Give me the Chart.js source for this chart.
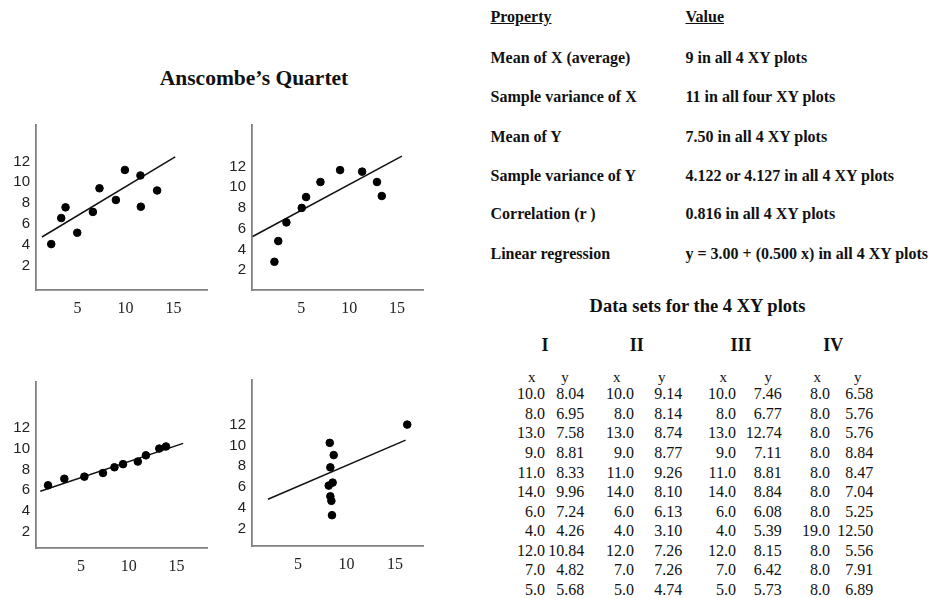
<!DOCTYPE html>
<html>
<head>
<meta charset="utf-8">
<script src="https://cdn.jsdelivr.net/npm/chart.js@4.4.1/dist/chart.umd.min.js"></script>
<style>
  html, body { margin: 0; padding: 0; background: #fff; }
  #wrap { position: relative; width: 935px; height: 598px; overflow: hidden; background: #fff; }
  canvas { position: absolute; }
  .t { position: absolute; font-family: "Liberation Serif", "Times New Roman", serif; color: #111; white-space: nowrap; }
  .b { font-weight: bold; }
</style>
</head>
<body>
<div id="wrap"></div>
<script>
// ---- tick labels ----
const xTickValues = [5, 10, 15];
const yTickValues = [2, 4, 6, 8, 10, 12];

// ---- plotted points ----
const plot1X = [2.26, 3.30, 3.75, 4.97, 6.60, 7.29, 9.00, 9.94, 11.56, 11.60, 13.30];
const plot1Y = [4.06, 6.56, 7.59, 5.15, 7.15, 9.42, 8.30, 11.18, 10.65, 7.65, 9.21];
const fit1X = [1.29, 15.18];
const fit1Y = [4.74, 12.44];

const plot2X = [2.2, 2.6, 3.45, 5.05, 5.5, 7.0, 9.05, 11.35, 12.9, 13.4];
const plot2Y = [2.8, 4.8, 6.6, 8.0, 9.05, 10.5, 11.65, 11.5, 10.5, 9.15];
const fit2X = [-0.07, 15.5];
const fit2Y = [5.24, 13.0];

const plot3X = [1.54, 3.25, 5.35, 7.3, 8.5, 9.4, 10.95, 11.8, 13.2, 13.9];
const plot3Y = [6.47, 7.1, 7.3, 7.65, 8.2, 8.5, 8.75, 9.35, 10.0, 10.2];
const fit3X = [0.73, 15.7];
const fit3Y = [5.9, 10.5];

const plot4X = [8.27, 8.68, 8.33, 8.57, 8.16, 8.33, 8.44, 8.5, 16.27];
const plot4Y = [10.24, 9.06, 7.88, 6.41, 6.12, 5.09, 4.65, 3.27, 12.0];
const fit4X = [1.89, 16.1];
const fit4Y = [4.8, 10.5];

// ---- table text ----
const propNames = ["Mean of X (average)", "Sample variance of X", "Mean of Y",
  "Sample variance of Y", "Correlation (r )", "Linear regression"];
const propValues = ["9 in all 4 XY plots", "11 in all four XY plots", "7.50 in all 4 XY plots",
  "4.122 or 4.127 in all 4 XY plots", "0.816 in all 4 XY plots", "y = 3.00 + (0.500 x) in all 4 XY plots"];
const setNames = ["I", "II", "III", "IV"];
const setIx = ["10.0","8.0","13.0","9.0","11.0","14.0","6.0","4.0","12.0","7.0","5.0"];
const setIy = ["8.04","6.95","7.58","8.81","8.33","9.96","7.24","4.26","10.84","4.82","5.68"];
const setIIx = ["10.0","8.0","13.0","9.0","11.0","14.0","6.0","4.0","12.0","7.0","5.0"];
const setIIy = ["9.14","8.14","8.74","8.77","9.26","8.10","6.13","3.10","7.26","7.26","4.74"];
const setIIIx = ["10.0","8.0","13.0","9.0","11.0","14.0","6.0","4.0","12.0","7.0","5.0"];
const setIIIy = ["7.46","6.77","12.74","7.11","8.81","8.84","6.08","5.39","8.15","6.42","5.73"];
const setIVx = ["8.0","8.0","8.0","8.0","8.0","8.0","8.0","19.0","8.0","8.0","8.0"];
const setIVy = ["6.58","5.76","5.76","8.84","8.47","7.04","5.25","12.50","5.56","7.91","6.89"];

const wrap = document.getElementById('wrap');

function text(str, opts) {
  const d = document.createElement('div');
  d.className = 't' + (opts.bold ? ' b' : '');
  d.textContent = str;
  d.style.fontSize = opts.size + 'px';
  d.style.lineHeight = '20px';
  d.style.top = (opts.cy - 10) + 'px';
  if (opts.align === 'center') {
    d.style.left = (opts.x - 200) + 'px'; d.style.width = '400px'; d.style.textAlign = 'center';
  } else if (opts.align === 'right') {
    d.style.left = (opts.x - 200) + 'px'; d.style.width = '200px'; d.style.textAlign = 'right';
  } else {
    d.style.left = opts.x + 'px';
  }
  if (opts.underline) d.style.textDecoration = 'underline';
  wrap.appendChild(d);
}

// ---- title ----
text("Anscombe\u2019s Quartet", { x: 254, cy: 78, size: 21.5, bold: true, align: 'center' });

// ---- property table ----
text("Property", { x: 490.5, cy: 17, size: 16, bold: true, underline: true });
text("Value", { x: 685.5, cy: 17, size: 16, bold: true, underline: true });
const propRowY = [58, 97, 137, 176, 214, 254];
propNames.forEach((n, i) => {
  text(n, { x: 490.5, cy: propRowY[i], size: 16, bold: true });
  text(propValues[i], { x: 685.5, cy: propRowY[i], size: 16, bold: true });
});

// ---- data sets ----
text("Data sets for the 4 XY plots", { x: 697.5, cy: 306, size: 18.5, bold: true, align: 'center' });
const setCenters = [545, 636.7, 741, 833.3];
setNames.forEach((n, i) => text(n, { x: setCenters[i], cy: 345, size: 18, bold: true, align: 'center' }));
const hdrX = [531.7, 565, 616.7, 661.7, 723.3, 768.3, 817.3, 857.7];
hdrX.forEach((x, i) => text(i % 2 === 0 ? "x" : "y", { x: x, cy: 376.7, size: 15, align: 'center' }));
const cols = [setIx, setIy, setIIx, setIIy, setIIIx, setIIIy, setIVx, setIVy];
const colRight = [545, 584.3, 634, 682.3, 736, 781.7, 830, 873.3];
cols.forEach((col, c) => {
  col.forEach((v, r) => text(v, { x: colRight[c], cy: 394.3 + 19.57 * r, size: 16, align: 'right' }));
});

// ---- charts ----
function pts(xs, ys) { return xs.map((x, i) => ({ x: x, y: ys[i] })); }

function makeChart(box, xr, yr, xs, ys, fx, fy) {
  const W = box.R - box.L, H = box.B - box.T;
  const cv = document.createElement('canvas');
  const cw = W + 50, ch = H + 45;
  cv.width = cw; cv.height = ch;
  cv.style.width = cw + 'px'; cv.style.height = ch + 'px';
  cv.style.left = (box.L - 40) + 'px';
  cv.style.top = (box.T - 10) + 'px';
  wrap.appendChild(cv);
  new Chart(cv, {
    type: 'scatter',
    data: {
      datasets: [
        { data: pts(xs, ys), backgroundColor: '#000', borderColor: '#000', pointRadius: 3.8, pointHoverRadius: 3.8, showLine: false },
        { data: pts(fx, fy), showLine: true, borderColor: '#111', borderWidth: 1.5, pointRadius: 0, fill: false }
      ]
    },
    options: {
      responsive: false,
      animation: false,
      events: [],
      layout: { autoPadding: false, padding: { left: 0, top: 10, right: 10, bottom: 15 } },
      plugins: { legend: { display: false }, tooltip: { enabled: false } },
      scales: {
        x: {
          type: 'linear', min: xr[0], max: xr[1],
          grid: { display: false, drawTicks: false },
          border: { display: true, color: '#808080', width: 1.8 },
          afterBuildTicks: (s) => { s.ticks = xTickValues.map(v => ({ value: v })); },
          afterFit: (s) => { s.height = 30; },
          ticks: { padding: 9, color: '#222', font: { family: '"Liberation Serif", serif', size: 16 }, maxRotation: 0, autoSkip: false }
        },
        y: {
          type: 'linear', min: yr[0], max: yr[1],
          grid: { display: false, drawTicks: false },
          border: { display: true, color: '#808080', width: 1.8 },
          afterBuildTicks: (s) => { s.ticks = yTickValues.map(v => ({ value: v })); },
          afterFit: (s) => { s.width = 40; },
          ticks: { padding: 6, color: '#222', font: { family: '"Liberation Sans", sans-serif', size: 15 }, autoSkip: false }
        }
      }
    }
  });
}

makeChart({ L: 35.7, T: 120, R: 206.7, B: 300 }, [0.67, 18.5], [-0.35, 15.5], plot1X, plot1Y, fit1X, fit1Y);
makeChart({ L: 251.7, T: 120, R: 422.7, B: 300 }, [-0.14, 17.7], [0.08, 16.0], plot2X, plot2Y, fit2X, fit2Y);
makeChart({ L: 35.7, T: 376.7, R: 206.7, B: 557.7 }, [0.28, 18.2], [0.44, 16.4], plot3X, plot3Y, fit3X, fit3Y);
makeChart({ L: 251.7, T: 375, R: 422.7, B: 556 }, [0.24, 17.9], [0.3, 16.3], plot4X, plot4Y, fit4X, fit4Y);
</script>
</body>
</html>
